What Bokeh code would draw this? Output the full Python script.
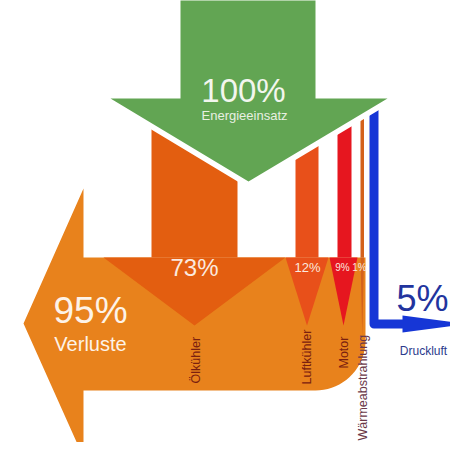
import numpy as np
from bokeh.plotting import figure
from bokeh.models import Range1d
from bokeh.core.properties import value
from bokeh.embed import file_html
from bokeh.resources import INLINE

# ---- data ----
input_label = "Energieeinsatz"
input_value = 100
loss_label = "Verluste"
loss_value = 95
loss_names = ["Ölkühler", "Luftkühler", "Motor", "Wärmeabstrahlung"]
loss_values = [73, 12, 9, 1]
useful_name = "Druckluft"
useful_value = 5

# ---- layout (schematic, pixel coordinates) ----
FONT = value("Liberation Sans")
bar_left = [151, 295, 337, 360]
bar_right = [237, 318, 351, 363.5]
head_left = [103, 285, 329, 360]
head_right = [285, 328, 357, 363.5]
head_tip = [325, 325, 325, 336]
bar_colors = ["#e35e10", "#e8501a", "#e6161f", "#d4621c"]
bar_top = 100
body_top, body_bottom = 257, 390

p = figure(width=450, height=442, x_range=Range1d(0, 450), y_range=Range1d(442, 0),
           output_backend="svg", toolbar_location=None, min_border=0,
           x_axis_type=None, y_axis_type=None)
p.grid.visible = False
p.outline_line_color = None
p.background_fill_color = "white"

# orange loss body with left arrow
t = np.linspace(0, np.pi / 2, 20)
cx, cy, r = 315, 340, 50
arc_x = list(cx + r * np.cos(t))
arc_y = list(cy + r * np.sin(t))
bx = [83, 365] + arc_x + [83, 83, 23, 83]
by = [body_top, body_top] + arc_y + [body_bottom, 457, 323, 188]
p.patch(bx, by, fill_color="#e8821c", line_color=None)

# loss bars with arrowheads
for i in range(len(loss_values)):
    p.quad(left=bar_left[i], right=bar_right[i], top=bar_top, bottom=body_top,
           fill_color=bar_colors[i], line_color=None)
    cxm = (head_left[i] + head_right[i]) / 2
    p.patch([head_left[i], head_right[i], cxm], [body_top, body_top, head_tip[i]],
            fill_color=bar_colors[i], line_color=None)

# blue useful flow
p.line([373.5, 373.5, 405], [100, 323.5, 323.5], line_color="#1636d6", line_width=9,
       line_join="round")
p.patch([402, 466, 402], [315, 323.5, 332], fill_color="#1636d6", line_color=None)

# green input arrow with white margin
gx = [180, 315, 315, 387, 248, 110, 180]
gy = [-5, -5, 98, 98, 181, 98, 98]
p.patch(gx, gy, fill_color="white", line_color="white", line_width=11, line_join="miter")
p.patch(gx, gy, fill_color="#62a553", line_color=None)

# texts
p.text([243], [90], text=[f"{input_value}%"], text_font=FONT, text_font_size="33px",
       text_color="#f2f6ee", text_align="center", text_baseline="middle")
p.text([244], [115], text=[input_label], text_font=FONT, text_font_size="13px",
       text_color="#e8f0e2", text_align="center", text_baseline="middle")
p.text([90], [310], text=[f"{loss_value}%"], text_font=FONT, text_font_size="37px",
       text_color="#fdf3e8", text_align="center", text_baseline="middle")
p.text([90], [343], text=[loss_label], text_font=FONT, text_font_size="20px",
       text_color="#fdf3e8", text_align="center", text_baseline="middle")

pct_x = [194, 307, 342, 359]
pct_y = [267, 267, 267, 267]
pct_size = ["24px", "13px", "10px", "10px"]
for i in range(len(loss_values)):
    p.text([pct_x[i]], [pct_y[i]], text=[f"{loss_values[i]}%"], text_font=FONT,
           text_font_size=pct_size[i], text_color="#fbe9df", text_align="center",
           text_baseline="middle")

lab_x = [195, 306, 343, 362]
lab_y = [383, 384, 368, 440]
lab_col = ["#7a2010", "#7a2010", "#7a2010", "#6a3848"]
for i in range(len(loss_names)):
    p.text([lab_x[i]], [lab_y[i]], text=[loss_names[i]], text_font=FONT,
           text_font_size="12.5px", text_color=lab_col[i], text_align="left",
           text_baseline="middle", angle=np.pi / 2)

p.text([422], [298], text=[f"{useful_value}%"], text_font=FONT, text_font_size="36px",
       text_color="#22349e", text_align="center", text_baseline="middle")
p.text([423], [350], text=[useful_name], text_font=FONT, text_font_size="12px",
       text_color="#2b3a8c", text_align="center", text_baseline="middle")

open("out.html", "w").write(file_html(p, INLINE))
